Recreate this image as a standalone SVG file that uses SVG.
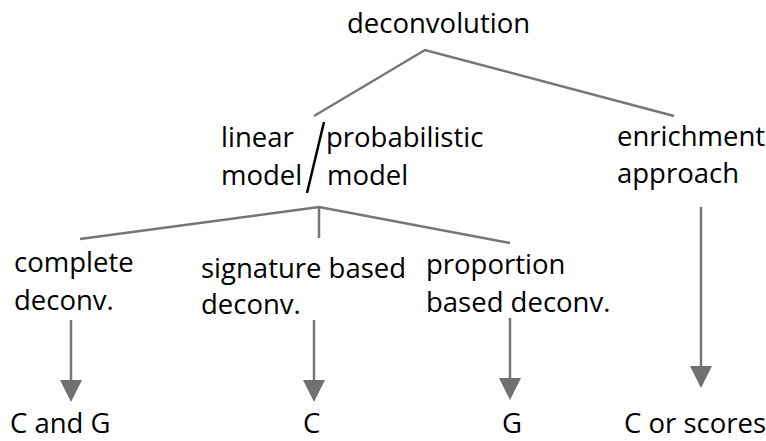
<svg xmlns="http://www.w3.org/2000/svg" width="766" height="441" viewBox="0 0 766 441">
<style>
text { font-family: "Open Sans", "Noto Sans", "Liberation Sans", sans-serif; font-size: 27.5px; fill: #000; }
.edge { stroke: #767676; stroke-width: 2.5; fill: none; }
.slash { stroke: #000; stroke-width: 2.5; fill: none; }
</style>
<defs>
<marker id="arrow" viewBox="0 0 22 22" refX="0" refY="11" markerWidth="22" markerHeight="22" markerUnits="userSpaceOnUse" orient="auto">
<path d="M0,0 L22,11 L0,22 z" fill="#707070"/>
</marker>
</defs>
<rect width="766" height="441" fill="#fff"/>
<g id="connectors">
<polyline class="edge" points="314,116 425,50 674,116"/>
<line class="slash" x1="324" y1="122" x2="307" y2="193"/>
<polyline class="edge" points="80,239 319,207 510,243"/>
<line class="edge" x1="319" y1="207" x2="319" y2="238"/>
<line class="edge" x1="71" y1="320" x2="71" y2="380" marker-end="url(#arrow)"/>
<line class="edge" x1="314" y1="320" x2="314" y2="380" marker-end="url(#arrow)"/>
<line class="edge" x1="510" y1="318" x2="510" y2="378" marker-end="url(#arrow)"/>
<line class="edge" x1="701" y1="207" x2="701" y2="366" marker-end="url(#arrow)"/>
</g>
<g id="deconvolution"><text x="347" y="33">deconvolution</text></g>
<g id="linear-model"><text x="221" y="147">linear</text><text x="221" y="185">model</text></g>
<g id="probabilistic-model"><text x="326" y="147">probabilistic</text><text x="327" y="185">model</text></g>
<g id="enrichment"><text x="617" y="146">enrichment</text><text x="617" y="183">approach</text></g>
<g id="complete"><text x="14" y="272">complete</text><text x="14" y="310">deconv.</text></g>
<g id="signature"><text x="201" y="278">signature based</text><text x="201" y="314">deconv.</text></g>
<g id="proportion"><text x="426" y="274">proportion</text><text x="426" y="312">based deconv.</text></g>
<g id="out-cg"><text x="10" y="433">C and G</text></g>
<g id="out-c"><text x="303" y="433">C</text></g>
<g id="out-g"><text x="502" y="433">G</text></g>
<g id="out-cs"><text x="624" y="433">C or scores</text></g>
</svg>
